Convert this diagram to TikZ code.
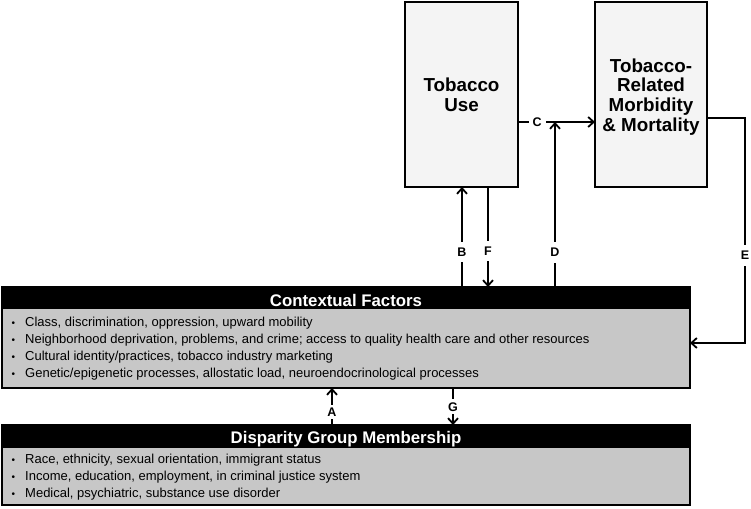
\documentclass[tikz,border=0pt]{standalone}
\usepackage{fontspec}
\setmainfont{Liberation Sans}
\usetikzlibrary{arrows.meta}
\definecolor{boxgray}{RGB}{244,244,244}
\definecolor{bodygray}{RGB}{199,199,199}
\begin{document}
\begin{tikzpicture}[x=1pt,y=-1pt,
  bigbox/.style={draw=black,line width=1.9pt,fill=boxgray},
  arr/.style={line width=1.8pt,-{Straight Barb[length=5.5pt,width=10pt]}},
  lab/.style={fill=white,inner xsep=4pt,inner ysep=6pt,font=\fontsize{12.5}{13}\selectfont\bfseries},
  item/.style={anchor=base west,inner sep=0pt,font=\fontsize{13}{15}\selectfont},
  bul/.style={anchor=base west,inner sep=0pt,font=\fontsize{10}{12}\selectfont},
  head/.style={anchor=base,text=white,font=\fontsize{16.8}{18}\selectfont\bfseries,inner sep=0pt},
  big/.style={anchor=base,font=\fontsize{18.8}{20}\selectfont\bfseries,inner sep=0pt}]
\useasboundingbox (0,0) rectangle (751,508);
% top boxes
\draw[bigbox] (405,2) rectangle (518,187);
\node[big] (tu1) at (461.5,92) {Tobacco};
\node[big] (tu2) at (461.5,111.5) {Use};
\draw[bigbox] (595,2) rectangle (707,187);
\node[big] (tr1) at (651,72.5) {Tobacco-};
\node[big] (tr2) at (651,92) {Related};
\node[big] (tr3) at (651,111.5) {Morbidity};
\node[big] (tr4) at (651,131) {\& Mortality};
\coordinate (tuE) at (518,122);
\coordinate (trW) at (595,122);
\coordinate (trE) at (707,118);
% contextual factors box
\fill[bodygray] (2,287) rectangle (690,388);
\fill[black] (2,287) rectangle (690,309);
\draw[line width=1.9pt] (2,287) rectangle (690,388);
\node[head] (cfh) at (346,306) {Contextual Factors};
\foreach \t [count=\i] in {{Class, discrimination, oppression, upward mobility},
  {Neighborhood deprivation, problems, and crime; access to quality health care and other resources},
  {Cultural identity/practices, tobacco industry marketing},
  {Genetic/epigenetic processes, allostatic load, neuroendocrinological processes}}{
  \node[bul] (cb\i) at (11.5,{326.5+(\i-1)*17}) {•};
  \node[item] (ct\i) at (25,{326.5+(\i-1)*17}) {\t};
}
% disparity box
\fill[bodygray] (2,425) rectangle (690,505);
\fill[black] (2,425) rectangle (690,448);
\draw[line width=1.9pt] (2,425) rectangle (690,505);
\node[head] (dgh) at (346,443) {Disparity Group Membership};
\foreach \t [count=\i] in {{Race, ethnicity, sexual orientation, immigrant status},
  {Income, education, employment, in criminal justice system},
  {Medical, psychiatric, substance use disorder}}{
  \node[bul] (db\i) at (11.5,{463+(\i-1)*17}) {•};
  \node[item] (dt\i) at (25,{463+(\i-1)*17}) {\t};
}
% coordinates on edges
\coordinate (cfB) at (462,287);
\coordinate (tuB) at (462,187);
\coordinate (tuF) at (488,187);
\coordinate (cfF) at (488,287);
\coordinate (cfD) at (555,287);
\coordinate (cD) at (555,122);
\coordinate (eR) at (745,118);
\coordinate (eB) at (745,343);
\coordinate (cfE) at (690,343);
\coordinate (dgA) at (332,425);
\coordinate (cfA) at (332,388);
\coordinate (cfG) at (453,388);
\coordinate (dgG) at (453,425);
% connectors
\draw[arr] (tuE) -- node[lab,pos=0.25,inner ysep=2pt] (lc) {C} (trW);
\draw[arr] (cfD) -- node[lab,pos=0.21] (ld) {D} (cD);
\draw[arr] (cfB) -- node[lab,pos=0.35] (lb) {B} (tuB);
\draw[arr] (tuF) -- node[lab,pos=0.64] (lf) {F} (cfF);
\draw[arr] (trE) -- (eR) -- node[lab,pos=0.61] (le) {E} (eB) -- (cfE);
\draw[arr] (dgA) -- node[lab,pos=0.35,inner ysep=3pt] (la) {A} (cfA);
\draw[arr] (cfG) -- node[lab,pos=0.51,inner ysep=3pt] (lg) {G} (dgG);
\end{tikzpicture}
\end{document}
